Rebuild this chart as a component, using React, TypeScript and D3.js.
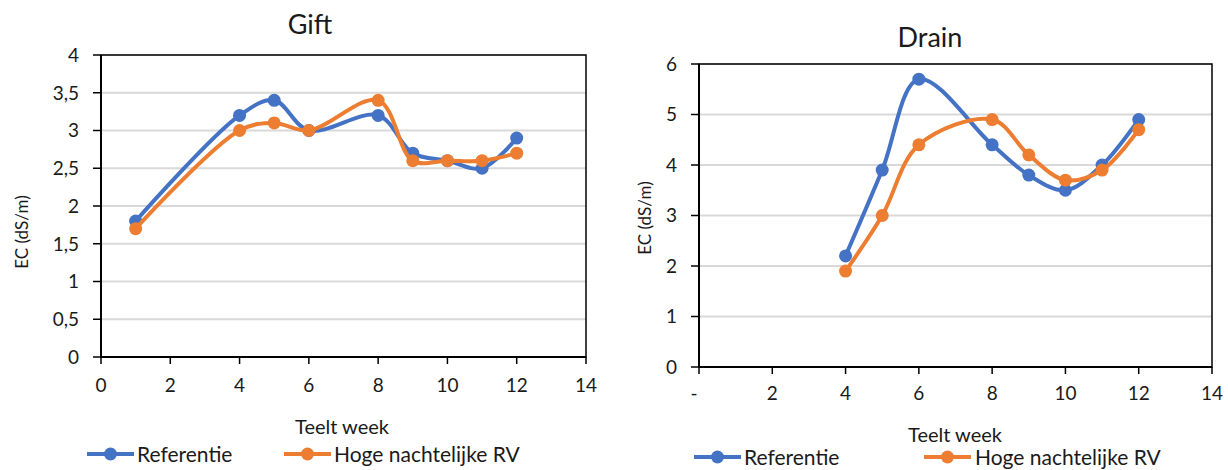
import React from "react";
import * as d3 from "d3";

// Gift (supply) EC per cultivation week
const giftWeeks = [1, 4, 5, 6, 8, 9, 10, 11, 12];
const giftReferentie = [1.8, 3.2, 3.4, 3.0, 3.2, 2.7, 2.6, 2.5, 2.9];
const giftHogeRV = [1.7, 3.0, 3.1, 3.0, 3.4, 2.6, 2.6, 2.6, 2.7];
const giftYTicks = [0, 0.5, 1, 1.5, 2, 2.5, 3, 3.5, 4];

// Drain EC per cultivation week
const drainWeeks = [4, 5, 6, 8, 9, 10, 11, 12];
const drainReferentie = [2.2, 3.9, 5.7, 4.4, 3.8, 3.5, 4.0, 4.9];
const drainHogeRV = [1.9, 3.0, 4.4, 4.9, 4.2, 3.7, 3.9, 4.7];
const drainYTicks = [0, 1, 2, 3, 4, 5, 6];

const xTicks = [0, 2, 4, 6, 8, 10, 12, 14];
const seriesNames = ["Referentie", "Hoge nachtelijke RV"];
const colors = ["#4472C4", "#ED7D31"];

const FONT = "Lato, 'Open Sans', sans-serif";
const TEXT = "#1a1a1a";

type PanelProps = {
  title: string;
  weeks: number[];
  series: number[][];
  yTicks: number[];
  yMax: number;
  x0: number;
  x1: number;
  yTop: number;
  yBottom: number;
  titleX: number;
  titleY: number;
  yLabelX: number;
  yLabelY: number;
  xLabelX: number;
  xLabelY: number;
  xTickLabelY: number;
  legendY: number;
  legendX: number[];
  legendTextX: number[];
  zeroDash?: boolean;
};

const fmtComma = (v: number) => String(v).replace(".", ",");

function Panel(p: PanelProps) {
  const x = d3.scaleLinear().domain([0, 14]).range([p.x0, p.x1]);
  const y = d3.scaleLinear().domain([0, p.yMax]).range([p.yBottom, p.yTop]);
  const line = d3
    .line<[number, number]>()
    .x((d) => x(d[0]))
    .y((d) => y(d[1]))
    .curve(d3.curveCatmullRom.alpha(0.5));

  return (
    <g>
      <text x={p.titleX} y={p.titleY} textAnchor="middle" fontSize={27} fontFamily={FONT} fill={TEXT}>
        {p.title}
      </text>
      {/* gridlines */}
      {p.yTicks.map((t) => (
        <line key={"g" + t} x1={p.x0} x2={p.x1} y1={y(t)} y2={y(t)} stroke="#d9d9d9" strokeWidth={2} />
      ))}
      {/* plot frame */}
      <rect x={p.x0} y={p.yTop} width={p.x1 - p.x0} height={p.yBottom - p.yTop} fill="none" stroke="#000" strokeWidth={1.5} />
      <line x1={p.x0} x2={p.x0} y1={p.yTop} y2={p.yBottom} stroke="#000" strokeWidth={2} />
      <line x1={p.x0} x2={p.x1} y1={p.yBottom} y2={p.yBottom} stroke="#000" strokeWidth={2} />
      {/* y ticks */}
      {p.yTicks.map((t) => (
        <g key={"y" + t}>
          <line x1={p.x0 - 8} x2={p.x0} y1={y(t)} y2={y(t)} stroke="#000" strokeWidth={1.5} />
          <text x={p.x0 - 22} y={y(t)} dy="0.36em" textAnchor="end" fontSize={19} fontFamily={FONT} fill={TEXT}>
            {fmtComma(t)}
          </text>
        </g>
      ))}
      {/* x ticks */}
      {xTicks.map((t) => (
        <g key={"x" + t}>
          <line x1={x(t)} x2={x(t)} y1={p.yBottom} y2={p.yBottom + 7} stroke="#000" strokeWidth={1.5} />
          <text
            x={t === 0 && p.zeroDash ? x(t) - 5 : x(t)}
            y={p.xTickLabelY}
            textAnchor="middle"
            fontSize={19}
            fontFamily={FONT}
            fill={TEXT}
          >
            {t === 0 && p.zeroDash ? "-" : String(t)}
          </text>
        </g>
      ))}
      {/* axis titles */}
      <text
        transform={`translate(${p.yLabelX},${p.yLabelY}) rotate(-90)`}
        textAnchor="middle"
        fontSize={17}
        fontFamily={FONT}
        fill={TEXT}
      >
        EC (dS/m)
      </text>
      <text x={p.xLabelX} y={p.xLabelY} textAnchor="middle" fontSize={20} fontFamily={FONT} fill={TEXT}>
        Teelt week
      </text>
      {/* series */}
      {p.series.map((vals, si) => {
        const pts = p.weeks.map((w, i) => [w, vals[i]] as [number, number]);
        return (
          <g key={"s" + si}>
            <path d={line(pts) || ""} fill="none" stroke={colors[si]} strokeWidth={4} strokeLinejoin="round" strokeLinecap="round" />
            {pts.map((d, i) => (
              <circle key={i} cx={x(d[0])} cy={y(d[1])} r={6.5} fill={colors[si]} />
            ))}
          </g>
        );
      })}
      {/* legend */}
      {seriesNames.map((n, si) => (
        <g key={"l" + si}>
          <line x1={p.legendX[si]} x2={p.legendX[si] + 47} y1={p.legendY} y2={p.legendY} stroke={colors[si]} strokeWidth={4} />
          <circle cx={p.legendX[si] + 23.5} cy={p.legendY} r={6.5} fill={colors[si]} />
          <text x={p.legendTextX[si]} y={p.legendY} dy="0.36em" fontSize={21} fontFamily={FONT} fill={TEXT}>
            {n}
          </text>
        </g>
      ))}
    </g>
  );
}

export default function App() {
  return (
    <svg width={1228} height={470} style={{ position: "absolute", left: 0, top: 0, background: "#fff" }}>
      <rect width={1228} height={470} fill="#fff" />
      <Panel
        title="Gift"
        weeks={giftWeeks}
        series={[giftReferentie, giftHogeRV]}
        yTicks={giftYTicks}
        yMax={4}
        x0={101}
        x1={586}
        yTop={55}
        yBottom={357}
        titleX={310}
        titleY={34}
        yLabelX={28}
        yLabelY={232}
        xLabelX={342}
        xLabelY={434}
        xTickLabelY={392}
        legendY={454}
        legendX={[87, 284]}
        legendTextX={[137, 334]}
      />
      <Panel
        title="Drain"
        weeks={drainWeeks}
        series={[drainReferentie, drainHogeRV]}
        yTicks={drainYTicks}
        yMax={6}
        x0={699}
        x1={1212}
        yTop={64}
        yBottom={367}
        titleX={930}
        titleY={47}
        yLabelX={651}
        yLabelY={218}
        xLabelX={955}
        xLabelY={442}
        xTickLabelY={400}
        legendY={457}
        legendX={[694, 924]}
        legendTextX={[744, 975]}
        zeroDash
      />
    </svg>
  );
}
